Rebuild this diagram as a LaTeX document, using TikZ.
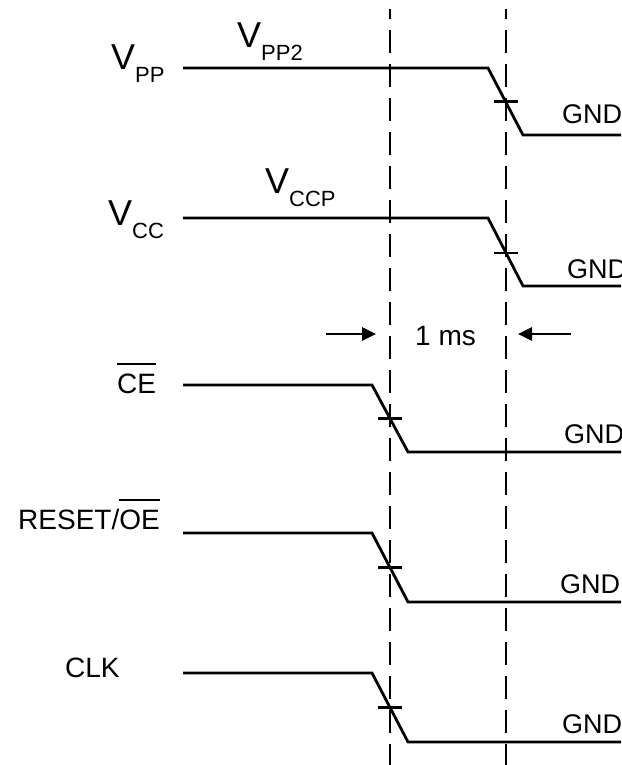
\documentclass[tikz,border=0pt]{standalone}
\usepackage{fontspec}
\setmainfont{Liberation Sans}
\usetikzlibrary{arrows.meta}

% supply name with lowered index, active-low bar
\newcommand{\sigv}[1]{{\fontsize{36}{37}\selectfont V}\raisebox{-13pt}{\fontsize{22}{23}\selectfont #1}}
\newcommand{\negsig}[1]{\setbox0\hbox{#1}\rlap{\rule[\dimexpr\ht0+8pt\relax]{\wd0}{2.5pt}}\box0}

\begin{document}
\begin{tikzpicture}[x=1pt,y=-1pt,
  sig/.style={line width=2.8pt,line join=miter},
  crossmark/.style={line width=2.8pt},
  guide/.style={line width=2.8pt,dash pattern=on 23pt off 11pt,dash phase=13pt},
  lbl/.style={anchor=base west,inner sep=0pt,font=\fontsize{28}{30}\selectfont},
  gnd/.style={anchor=base west,inner sep=0pt,font=\fontsize{27}{29}\selectfont},
  dim/.style={-{Triangle[length=14pt,width=13pt]},line width=2.8pt}]

  \useasboundingbox (0,0) rectangle (621,765);

  % the two 1 ms markers
  \draw[guide] (390,9) -- (390,765);
  \draw[guide] (506,9) -- (506,765);

  % supplies
  \node[lbl] (vpp)   at (111,70)  {\sigv{PP}};
  \node[lbl] (vppii) at (237,48)  {\sigv{PP2}};
  \draw[sig] (183,68) -- (488,68) -- (523,135) -- (621,135);
  \draw[crossmark] (494,101.5) -- (518,101.5);
  \node[gnd] (gndpp) at (562,124) {GND};

  \node[lbl] (vcc)   at (108,225) {\sigv{CC}};
  \node[lbl] (vccp)  at (265,193) {\sigv{CCP}};
  \draw[sig] (183,218) -- (488,218) -- (523,286) -- (621,286);
  \draw[crossmark] (494,253) -- (518,253);
  \node[gnd] (gndcc) at (567,278) {GND};

  % spacing between the edges
  \node[lbl] (span) at (415,345) {1 ms};
  \coordinate (spanl) at (326,334); \coordinate (spanlh) at (376,334);
  \coordinate (spanr) at (571,334); \coordinate (spanrh) at (518,334);
  \draw[dim] (spanl) -- (spanlh);
  \draw[dim] (spanr) -- (spanrh);

  % control inputs
  \node[lbl] (ce) at (117,393) {\negsig{CE}};
  \draw[sig] (183,385) -- (372,385) -- (408,452) -- (621,452);
  \draw[crossmark] (378,418.5) -- (402,418.5);
  \node[gnd] (gndce) at (564,443) {GND};

  \node[lbl] (reset) at (18,529) {RESET/\negsig{OE}};
  \draw[sig] (183,533) -- (372,533) -- (408,602) -- (621,602);
  \draw[crossmark] (378,567.5) -- (402,567.5);
  \node[gnd] (gndrst) at (560,593) {GND};

  \node[lbl] (clk) at (65,677) {CLK};
  \draw[sig] (183,673) -- (372,673) -- (408,742) -- (621,742);
  \draw[crossmark] (378,707.5) -- (402,707.5);
  \node[gnd] (gndclk) at (562,733) {GND};
\end{tikzpicture}
\end{document}
